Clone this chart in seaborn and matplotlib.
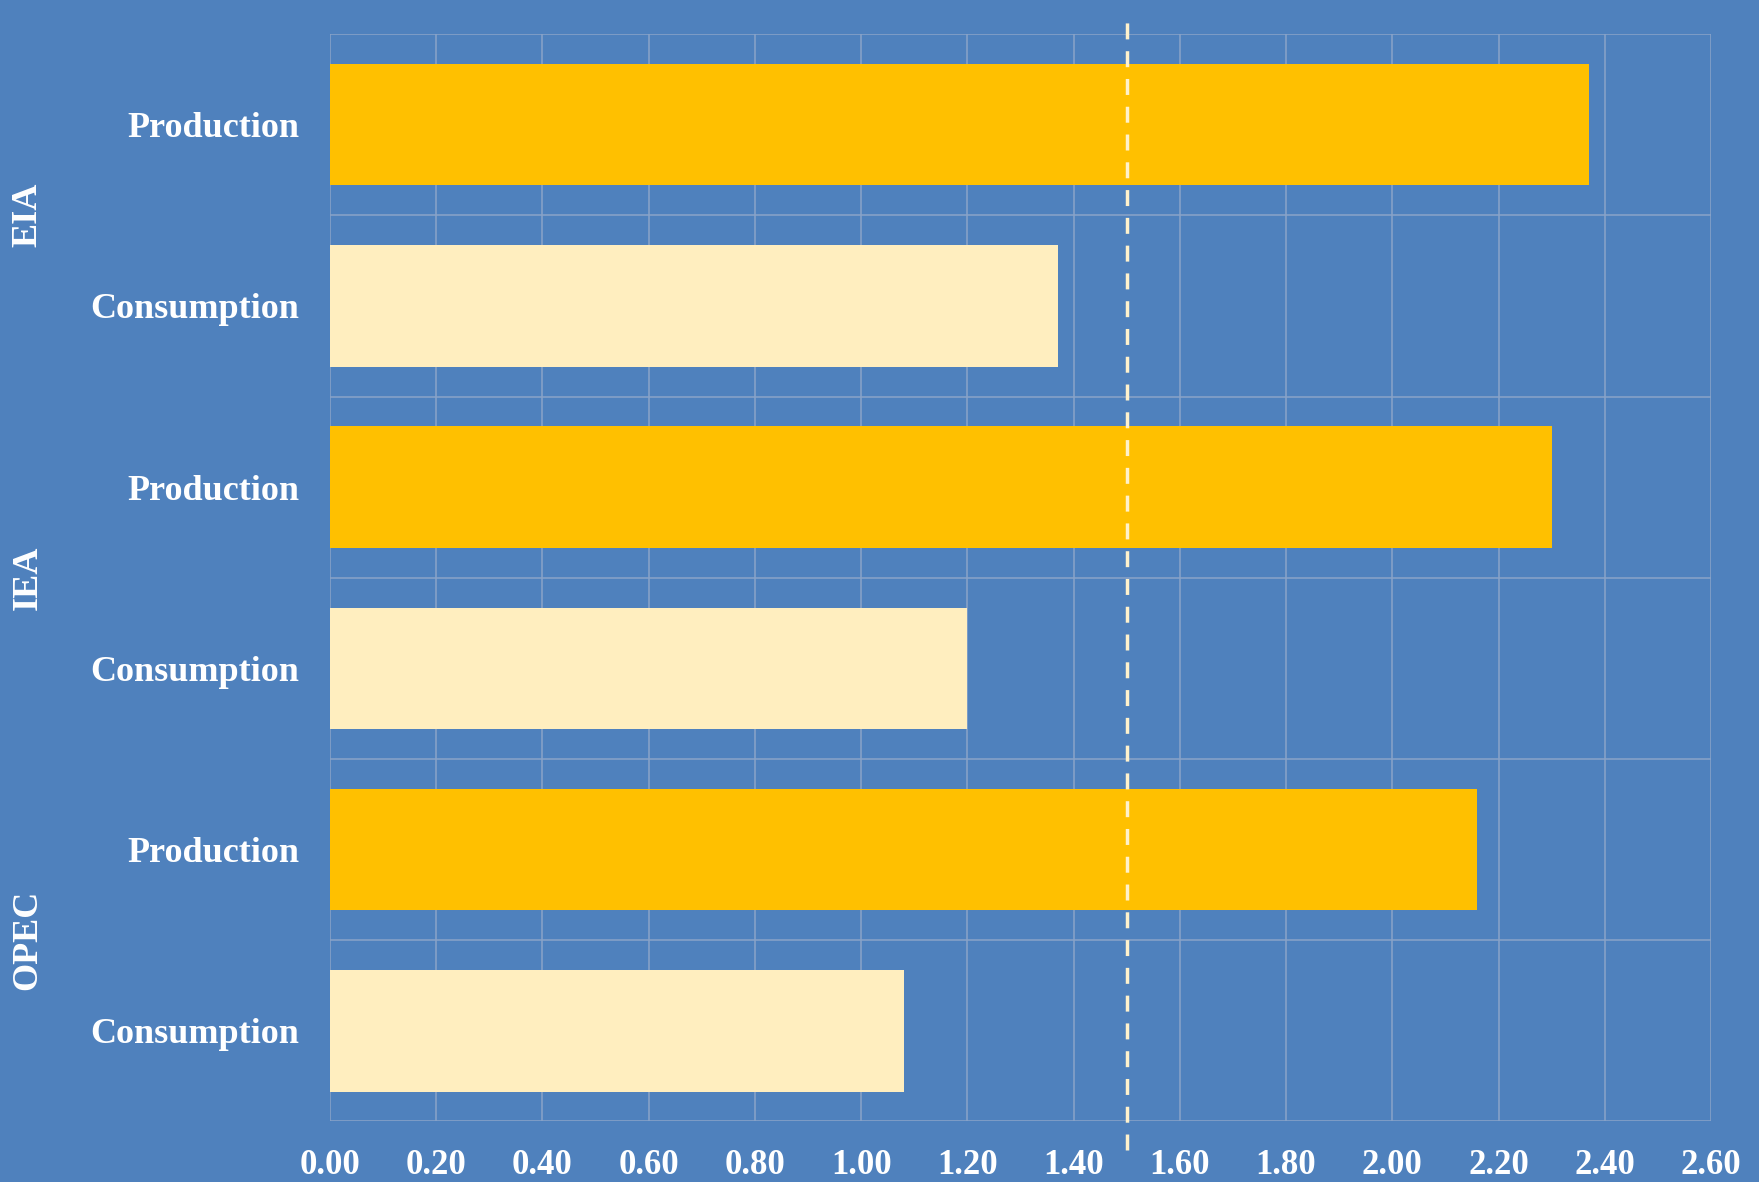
import matplotlib
matplotlib.use("Agg")
import matplotlib.pyplot as plt
import matplotlib.transforms as mtransforms
import numpy as np
import pandas as pd
import seaborn as sns

# data
groups = ["EIA", "EIA", "IEA", "IEA", "OPEC", "OPEC"]
metrics = ["Production", "Consumption", "Production", "Consumption", "Production", "Consumption"]
values = [2.37, 1.37, 2.30, 1.20, 2.16, 1.08]
x_ticks = np.arange(0, 2.61, 0.2)
ref_line = 1.5

bg = "#4F81BD"
colors = {"Production": "#FFC000", "Consumption": "#FFEEBF"}

df = pd.DataFrame({"group": groups, "metric": metrics, "value": values})
df["key"] = df["group"] + " " + df["metric"]

sns.set_theme(style="white")
plt.rcParams["font.family"] = ["Liberation Serif", "DejaVu Serif"]

fig = plt.figure(figsize=(17.59, 11.82), dpi=100, facecolor=bg)
ax = fig.add_axes([0.1876, 0.0512, 0.9727 - 0.1876, 0.9712 - 0.0512])
ax.set_facecolor(bg)

sns.barplot(data=df, y="key", x="value", hue="metric", palette=colors,
            saturation=1, dodge=False, width=0.67, orient="h", ax=ax,
            legend=False, edgecolor="none", zorder=2)

ax.set_xlim(0, 2.6)
ax.set_ylim(5.5, -0.5)
ax.set_xticks(x_ticks)
ax.set_xticklabels([f"{v:.2f}" for v in x_ticks])
ax.set_yticks(range(len(df)))
ax.set_yticklabels(df["metric"])
ax.set_yticks(np.arange(-0.5, 6, 1), minor=True)
ax.set_xlabel("")
ax.set_ylabel("")

ax.grid(False)
ax.grid(axis="x", which="major", color="#8AA3C8", linewidth=1.1, zorder=1)
ax.grid(axis="y", which="minor", color="#8AA3C8", linewidth=1.1, zorder=1)
ax.set_axisbelow(True)
for s in ax.spines.values():
    s.set_visible(False)

ax.tick_params(axis="x", which="both", length=0, pad=20, labelsize=25, labelcolor="white")
ax.tick_params(axis="y", which="both", length=0, pad=22, labelsize=26, labelcolor="white")
for lbl in ax.get_xticklabels() + ax.get_yticklabels():
    lbl.set_fontweight("bold")

# dashed reference line running past the plot area
ax.axvline(ref_line, ymin=-0.026, ymax=1.02, color="#FFF2CC", linewidth=2.5,
           linestyle=(0, (4.6, 3.4)), clip_on=False, zorder=3)

# group labels
trans = mtransforms.blended_transform_factory(fig.transFigure, ax.transData)
for i, g in enumerate(["EIA", "IEA", "OPEC"]):
    ax.text(0.016, 2 * i + 0.5, g, transform=trans, rotation=90, ha="center",
            va="center", fontsize=26, fontweight="bold", color="white")

fig.savefig("out.png", dpi=100, facecolor=bg)
